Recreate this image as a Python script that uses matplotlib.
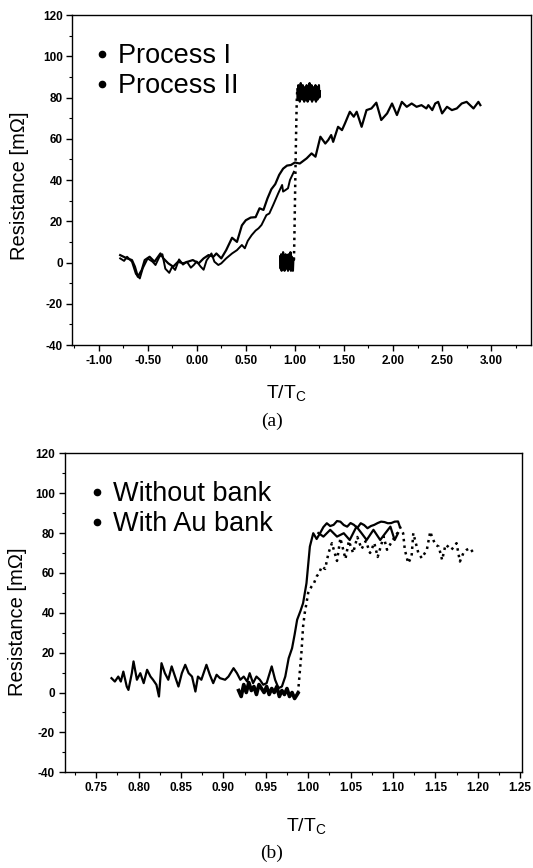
import numpy as np
import matplotlib.pyplot as plt
from matplotlib.lines import Line2D
from matplotlib.ticker import MultipleLocator, FormatStrFormatter

plt.rcParams['font.family'] = ['Liberation Sans', 'DejaVu Sans']
plt.rcParams['mathtext.fontset'] = 'custom'
plt.rcParams['mathtext.rm'] = 'Liberation Sans'
plt.rcParams['axes.unicode_minus'] = False

# ---------------- panel (a) data ----------------
# Process I, first sweep (continues up to T/Tc ~ 2.9)
p1_x = [-0.78, -0.71, -0.66, -0.63, -0.60, -0.56, -0.53, -0.48, -0.43, -0.37,
        -0.34, -0.29, -0.24, -0.19, -0.14, -0.09, -0.04, 0.02, 0.07, 0.12,
        0.17, 0.20, 0.25, 0.30, 0.36, 0.41, 0.46, 0.50, 0.55, 0.60,
        0.64, 0.68, 0.72, 0.76, 0.80, 0.84, 0.88, 0.92, 0.96, 1.00,
        1.05, 1.12, 1.17, 1.21, 1.26, 1.31, 1.34, 1.37, 1.39, 1.44,
        1.48, 1.51, 1.56, 1.60, 1.63, 1.68, 1.73, 1.78, 1.83, 1.88,
        1.94, 1.99, 2.04, 2.09, 2.14, 2.19, 2.24, 2.29, 2.34, 2.36,
        2.40, 2.43, 2.46, 2.50, 2.55, 2.60, 2.65, 2.70, 2.75, 2.82,
        2.87, 2.89]
p1_y = [3.6, 2.0, 1.2, -2.0, -6.9, -3.6, 1.2, 2.8, 0.4, 4.4,
        2.0, -0.4, -2.0, 0.4, -0.4, 0.4, 1.2, -0.4, 2.0, 3.6,
        2.8, 4.4, 2.0, 6.0, 12.0, 10.0, 18.0, 20.5, 21.8, 22.0,
        26.3, 25.5, 31.0, 35.5, 38.0, 42.5, 45.5, 47.0, 47.3, 48.5,
        48.0, 50.5, 52.9, 51.3, 61.0, 57.7, 59.4, 61.8, 58.5, 65.8,
        64.2, 67.4, 73.1, 70.7, 73.1, 65.8, 73.9, 74.7, 77.5, 69.1,
        72.3, 77.1, 71.5, 77.9, 75.5, 77.1, 75.5, 76.3, 74.7, 76.3,
        73.9, 77.1, 77.9, 72.3, 75.5, 73.9, 74.7, 77.1, 77.9, 74.7,
        77.9, 76.3]

# Process I, second sweep (lower branch)
p1b_x = [-0.78, -0.74, -0.71, -0.66, -0.62, -0.58, -0.55, -0.50, -0.45, -0.42,
         -0.38, -0.35, -0.32, -0.28, -0.25, -0.22, -0.18, -0.14, -0.10, -0.06,
         -0.03, 0.00, 0.04, 0.07, 0.10, 0.15, 0.18, 0.22, 0.25, 0.30,
         0.36, 0.41, 0.46, 0.49, 0.52, 0.56, 0.60, 0.63, 0.66, 0.71,
         0.74, 0.78, 0.83, 0.87, 0.88, 0.90, 0.93, 0.95, 0.99]
p1b_y = [2.0, 0.8, 2.8, 0.4, -5.5, -7.7, -2.8, 2.0, 0.4, -1.2,
         2.8, 4.0, -3.0, -5.0, -2.0, -3.6, 1.5, -1.0, 0.4, -2.5,
         -1.2, 0.5, -2.0, -3.5, 1.0, 4.4, 0.4, -1.2, -0.4, 2.0,
         4.4, 6.0, 8.5, 6.9, 10.5, 13.3, 15.5, 16.6, 18.2, 23.0,
         23.8, 28.0, 33.5, 37.6, 34.4, 35.0, 36.0, 40.0, 44.0]

# Process II (sharp transition)
p2_x = [0.850, 0.855, 0.860, 0.865, 0.870, 0.875, 0.880, 0.885, 0.890, 0.895,
        0.900, 0.905, 0.910, 0.915, 0.920, 0.925, 0.930, 0.935, 0.940, 0.945,
        0.950, 0.955, 0.960, 0.965, 0.970, 0.975, 0.980, 0.985,
        0.990, 0.995, 1.000, 1.005, 1.010, 1.015, 1.020,
        1.025, 1.030, 1.035, 1.040, 1.045, 1.050, 1.055, 1.060, 1.065, 1.070,
        1.075, 1.080, 1.085, 1.090, 1.095, 1.100, 1.105, 1.110, 1.115, 1.120,
        1.125, 1.130, 1.135, 1.140, 1.145, 1.150, 1.155, 1.160, 1.165, 1.170,
        1.175, 1.180, 1.185, 1.190, 1.195, 1.200, 1.205, 1.210, 1.215, 1.220,
        1.225, 1.230, 1.235, 1.240, 1.245, 1.250, 1.255]
p2_y = [3, -3, 4, -4, 2, -2, 5, -3, 3, -4,
        1, 4, -3, 2, -2, 3, -4, 4, -1, 2,
        -3, 5, -4, 3, -2, 1, -4, 2,
        0, 12, 27, 42, 56, 69, 80,
        84, 79, 86, 80, 85, 78, 83, 87, 80, 84,
        79, 86, 81, 83, 78, 85, 80, 84, 79, 86,
        82, 78, 85, 80, 83, 87, 79, 84, 80, 86,
        78, 83, 81, 85, 79, 84, 80, 86, 78, 83,
        85, 79, 84, 81, 86, 80, 83]

# ---------------- panel (b) data ----------------
# With Au bank
au_x = [0.768, 0.772, 0.776, 0.779, 0.782, 0.786, 0.788, 0.792, 0.794, 0.798,
        0.802, 0.806, 0.810, 0.814, 0.817, 0.821, 0.824, 0.827, 0.831, 0.835,
        0.839, 0.843, 0.847, 0.851, 0.855, 0.859, 0.863, 0.867, 0.870, 0.874,
        0.880, 0.884, 0.888, 0.892, 0.896, 0.902, 0.906, 0.912, 0.916, 0.920,
        0.924, 0.928, 0.931, 0.935, 0.939, 0.943, 0.947, 0.951, 0.957, 0.961,
        0.965, 0.969, 0.973, 0.977, 0.981, 0.984, 0.987, 0.991, 0.994, 0.998,
        1.002, 1.006, 1.010, 1.014, 1.018, 1.022, 1.026, 1.030, 1.034, 1.038,
        1.042, 1.046, 1.050, 1.054, 1.058, 1.062, 1.066, 1.070, 1.074, 1.078,
        1.082, 1.086, 1.090, 1.094, 1.098, 1.102, 1.106, 1.108, 1.112, 1.114,
        1.118, 1.122, 1.124, 1.126, 1.130, 1.134, 1.140, 1.144, 1.146, 1.150,
        1.154, 1.158, 1.162, 1.165, 1.169, 1.175, 1.179, 1.183, 1.187, 1.191,
        1.195]
au_y = [7.2, 5.5, 8.0, 5.5, 10.5, 3.0, 1.3, 9.7, 15.6, 6.4,
        9.7, 4.7, 11.4, 8.0, 6.4, 3.9, -2.0, 14.7, 9.7, 6.4,
        13.1, 8.0, 3.0, 9.7, 13.9, 9.7, 8.0, 0.5, 8.0, 6.4,
        13.9, 8.9, 4.7, 8.9, 7.2, 6.4, 8.0, 12.2, 9.7, 6.4,
        8.0, 5.5, 9.7, 4.7, 8.0, 6.4, 3.9, 4.7, 13.1, 6.4,
        2.2, 3.0, 8.0, 17.2, 22.2, 29.0, 36.5, 41.0, 44.8, 54.8,
        73.2, 79.9, 77.0, 79.9, 83.0, 84.9, 83.5, 84.1, 86.0, 85.7,
        84.0, 83.2, 85.0, 84.1, 82.5, 84.9, 84.0, 82.4, 83.5, 84.1,
        85.0, 85.7, 85.5, 84.9, 85.0, 85.7, 85.8, 83.3, 79.9, 71.6,
        64.9, 68.2, 79.9, 76.6, 69.9, 67.4, 71.6, 80.7, 78.2, 74.1,
        73.2, 66.5, 74.1, 73.2, 71.6, 74.9, 65.7, 69.9, 71.6, 72.4,
        69.9]

# Without bank
wb_x = [0.918, 0.921, 0.924, 0.927, 0.930, 0.933, 0.936, 0.939, 0.942, 0.945,
        0.948, 0.951, 0.954, 0.957, 0.960, 0.963, 0.966, 0.969, 0.972, 0.975,
        0.978, 0.981, 0.984, 0.987, 0.988,
        0.992, 0.994, 0.996, 0.998, 1.000, 1.004, 1.007, 1.010, 1.013, 1.016,
        1.020, 1.024, 1.028, 1.034, 1.038, 1.044, 1.048, 1.053, 1.058, 1.063,
        1.068, 1.073, 1.078, 1.082, 1.089, 1.093, 1.100, 1.105, 1.108]
wb_y = [1, -2, 4, 0, 5, 1, 3, -1, 4, 2,
        0, 3, -1, 2, 0, 3, -2, 1, -1, 2,
        -2, 0, -3, -1, -0.3,
        19.7, 33.1, 40.0, 44.8, 50.0, 53.2, 55.0, 58.2, 60.0, 63.2,
        62.0, 70.0, 74.9, 66.0, 77.4, 67.0, 76.0, 70.0, 78.0, 72.0,
        76.0, 70.0, 75.0, 68.0, 78.2, 71.6, 76.6, 79.9, 80.5]

# Without bank, return sweep on the plateau
wr_x = [1.106, 1.102, 1.097, 1.091, 1.085, 1.077, 1.069, 1.063, 1.057, 1.049,
        1.042, 1.034, 1.026, 1.018, 1.012]
wr_y = [79.9, 76.5, 83.2, 79.9, 76.5, 81.6, 76.5, 79.9, 83.2, 76.5,
        79.9, 78.2, 81.6, 78.2, 80.0]

# ---------------- figure ----------------
fig = plt.figure(figsize=(5.33, 8.68), dpi=100)
ax1 = fig.add_axes([0.1358, 0.6025, 0.8612, 0.3802])
ax2 = fig.add_axes([0.1212, 0.1103, 0.8578, 0.3675])


def style_axes(ax, xmaj, xmin, fmt):
    ax.set_ylim(-40, 120)
    ax.yaxis.set_major_locator(MultipleLocator(20))
    ax.yaxis.set_minor_locator(MultipleLocator(10))
    ax.xaxis.set_major_locator(MultipleLocator(xmaj))
    ax.xaxis.set_minor_locator(MultipleLocator(xmin))
    ax.xaxis.set_major_formatter(FormatStrFormatter(fmt))
    ax.tick_params(which='major', direction='out', length=4, width=1,
                   labelsize=8.5, pad=3)
    ax.tick_params(which='minor', direction='out', length=2, width=0.8)
    for lab in ax.get_xticklabels() + ax.get_yticklabels():
        lab.set_fontweight('bold')
    for sp in ax.spines.values():
        sp.set_linewidth(1.0)
    ax.set_ylabel('Resistance [mΩ]', fontsize=14.5)
    ax.set_xlabel(r'T/T$_{\rm C}$', fontsize=14)


# panel (a)
ax1.plot(p1_x, p1_y, color='k', lw=1.6)
ax1.plot(p1b_x, p1b_y, color='k', lw=1.4)
p2_x_a = np.array(p2_x)
p2_y_a = np.array(p2_y)
low = p2_x_a <= 0.985
high = p2_x_a >= 1.025
rise = (p2_x_a >= 0.985) & (p2_x_a <= 1.025)
ax1.plot(p2_x_a[low], p2_y_a[low], color='k', lw=1.6)
ax1.plot(p2_x_a[high], p2_y_a[high], color='k', lw=1.6)
ax1.plot(p2_x_a[rise], p2_y_a[rise], color='k', lw=1.8, ls=':')
ax1.set_xlim(-1.267, 3.41)
style_axes(ax1, 0.5, 0.25, '%.2f')
ax1.yaxis.set_label_coords(-0.095, 0.482)
ax1.xaxis.set_label_coords(0.467, -0.118)

dot = Line2D([], [], ls='none', marker='o', ms=4.5, color='k')
ax1.legend([dot, dot], ['Process I', 'Process II'], loc='upper left',
           bbox_to_anchor=(0.047, 0.915), frameon=False, fontsize=19.5,
           handlelength=0.6, handletextpad=0.3, borderpad=0,
           borderaxespad=0, labelspacing=0.15)

# panel (b)
au_x_a = np.array(au_x)
au_y_a = np.array(au_y)
m = au_x_a <= 1.108
ax2.plot(au_x_a[m], au_y_a[m], color='k', lw=1.6)
m2 = au_x_a >= 1.108
ax2.plot(au_x_a[m2], au_y_a[m2], color='k', lw=1.8, ls=':')

wb_x_a = np.array(wb_x)
wb_y_a = np.array(wb_y)
m = wb_x_a <= 0.988
ax2.plot(wb_x_a[m], wb_y_a[m], color='k', lw=2.6)
m2 = wb_x_a >= 0.988
ax2.plot(wb_x_a[m2], wb_y_a[m2], color='k', lw=1.8, ls=':')
ax2.plot(wr_x, wr_y, color='k', lw=1.6)

ax2.set_xlim(0.7127, 1.252)
style_axes(ax2, 0.05, 0.025, '%.2f')
ax2.yaxis.set_label_coords(-0.082, 0.472)
ax2.xaxis.set_label_coords(0.528, -0.140)
ax2.legend([dot, dot], ['Without bank', 'With Au bank'], loc='upper left',
           bbox_to_anchor=(0.053, 0.913), frameon=False, fontsize=19.5,
           handlelength=0.6, handletextpad=0.3, borderpad=0,
           borderaxespad=0, labelspacing=0.15)

fig.text(272 / 533, 1 - 421.7 / 868, '(a)', family='Liberation Serif',
         fontsize=14, ha='center', va='center')
fig.text(272 / 533, 1 - 853 / 868, '(b)', family='Liberation Serif',
         fontsize=14, ha='center', va='center')

fig.savefig('out.png', dpi=100)
